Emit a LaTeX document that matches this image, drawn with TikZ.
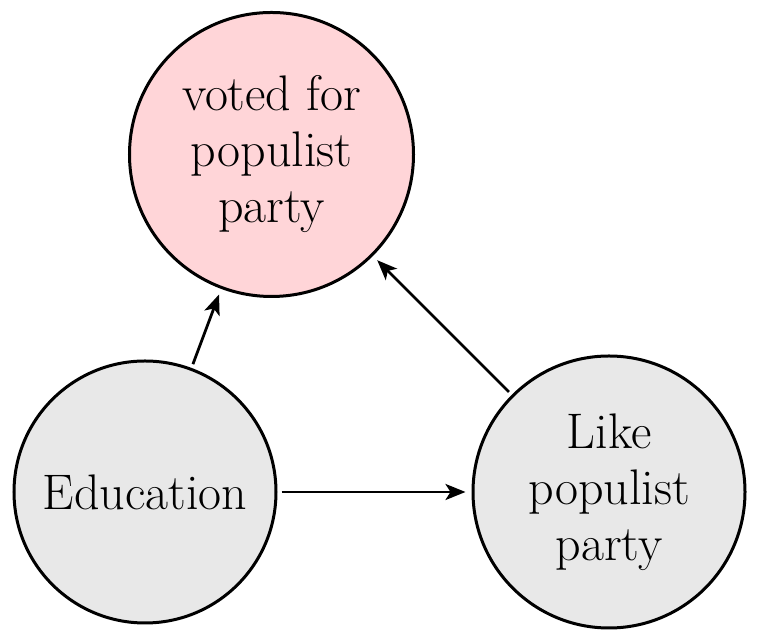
\documentclass[tikz,border=0pt]{standalone}
\usepackage{amsmath}
\usepackage{tikz}
\usetikzlibrary{arrows.meta}

\definecolor{votepink}{RGB}{255,213,216}
\definecolor{causegray}{RGB}{232,232,232}

\begin{document}
\begin{tikzpicture}[node distance=232pt,
    var/.style={circle, draw, line width=1.5pt, align=center,
        font=\fontsize{25}{28}\selectfont, inner sep=0pt},
    link/.style={-{Stealth[length=10pt, width=8pt, inset=2.5pt]}, line width=1.4pt,
        shorten <=2pt, shorten >=3pt}]
    \useasboundingbox (-72.5pt,-74pt) rectangle (310pt,246pt);

    % Place the three variables
    \node (EDU) [var, fill=causegray, minimum size=131pt] {Education};
    \node (LIKE) [var, fill=causegray, minimum size=136pt, right of=EDU] {Like\\populist\\party};
    \node (VOTE) [var, fill=votepink, minimum size=142pt, above of=EDU,
        xshift=63.25pt, yshift=-63.25pt] {voted for\\populist\\party};

    % Draw the arrows
    \draw[link] (EDU) -- (VOTE);
    \draw[link] (LIKE) -- (VOTE);
    \draw[link] (EDU) -- (LIKE);
\end{tikzpicture}
\end{document}
